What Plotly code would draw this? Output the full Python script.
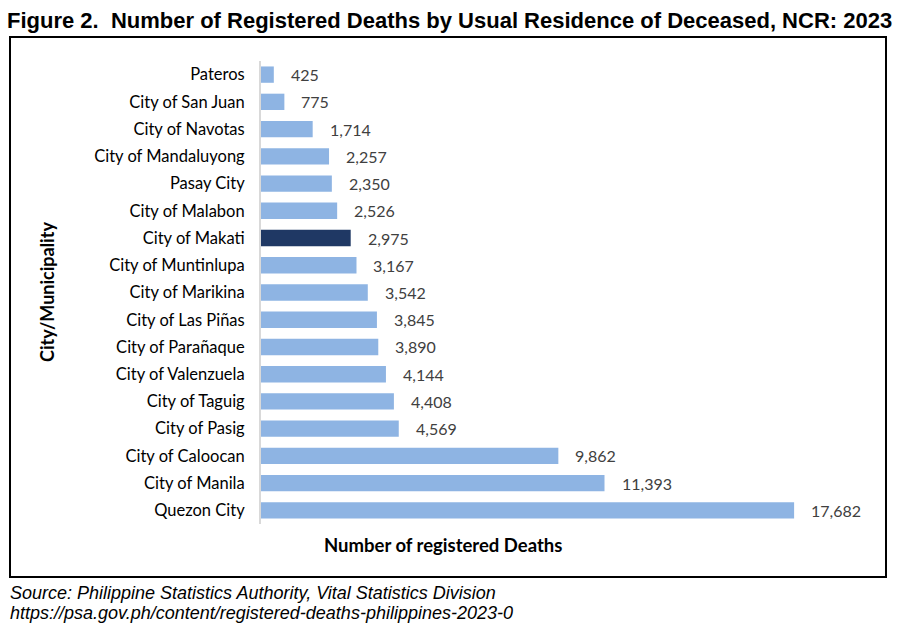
import plotly.graph_objects as go

cities = ["Quezon City", "City of Manila", "City of Caloocan", "City of Pasig", "City of Taguig",
          "City of Valenzuela", "City of Parañaque", "City of Las Piñas", "City of Marikina",
          "City of Muntinlupa", "City of Makati", "City of Malabon", "Pasay City",
          "City of Mandaluyong", "City of Navotas", "City of San Juan", "Pateros"]
deaths = [17682, 11393, 9862, 4569, 4408, 4144, 3890, 3845, 3542, 3167, 2975, 2526, 2350,
          2257, 1714, 775, 425]
highlight = "City of Makati"

W, H = 898, 629
L, R, T, B = 261, 864, 61, 524  # plot area pixel bounds
pw, ph = R - L, B - T

def px(x):
    return (x - L) / pw

def py(y):
    return (B - y) / ph

FONT = "Lato, Carlito, sans-serif"
colors = ["#1F3864" if c == highlight else "#8EB4E3" for c in cities]

fig = go.Figure(go.Bar(
    x=deaths, y=cities, orientation="h",
    marker=dict(color=colors, line=dict(width=0)),
    width=0.6, hoverinfo="x+y",
))

annotations = []
for c, v in zip(cities, deaths):
    annotations.append(dict(x=v, y=c, xref="x", yref="y", text=f"{v:,}", showarrow=False,
                            xanchor="left", xshift=15,
                            font=dict(family=FONT, size=16, color="#404040")))

annotations += [
    dict(x=px(5), y=py(20), xref="paper", yref="paper", xanchor="left", yanchor="middle",
         text="<b>Figure 2.  Number of Registered Deaths by Usual Residence of Deceased, NCR: 2023</b>",
         showarrow=False, font=dict(family="Liberation Sans, Arial", size=22, color="#000000")),
    dict(x=px(443), y=py(545), xref="paper", yref="paper", xanchor="center", yanchor="middle",
         text="<b>Number of registered Deaths</b>", showarrow=False,
         font=dict(family=FONT, size=18.5, color="#000000")),
    dict(x=px(47), y=py(292), xref="paper", yref="paper", xanchor="center", yanchor="middle",
         text="<b>City/Municipality</b>", textangle=-90, showarrow=False,
         font=dict(family=FONT, size=18, color="#000000")),
    dict(x=px(8), y=py(593), xref="paper", yref="paper", xanchor="left", yanchor="middle",
         text="<i>Source: Philippine Statistics Authority, Vital Statistics Division</i>", showarrow=False,
         font=dict(family="Liberation Sans, Arial", size=18, color="#000000")),
    dict(x=px(8), y=py(613), xref="paper", yref="paper", xanchor="left", yanchor="middle",
         text="<i>https://psa.gov.ph/content/registered-deaths-philippines-2023-0</i>", showarrow=False,
         font=dict(family="Liberation Sans, Arial", size=18, color="#000000")),
]

fig.update_layout(
    width=W, height=H,
    margin=dict(l=L, r=W - R, t=T, b=H - B, pad=0),
    paper_bgcolor="white", plot_bgcolor="white",
    showlegend=False,
    xaxis=dict(range=[0, 20000], visible=False, showgrid=False, zeroline=False),
    yaxis=dict(showgrid=False, zeroline=False, showline=True, linecolor="#D9D9D9", linewidth=2,
               ticks="", ticklabelstandoff=11, automargin=False,
               tickfont=dict(family=FONT, size=16.5, color="#000000"),
               range=[-0.5, len(cities) - 0.5]),
    annotations=annotations,
    shapes=[dict(type="rect", xref="paper", yref="paper",
                 x0=px(10), x1=px(886), y0=py(577), y1=py(37),
                 line=dict(color="#000000", width=2), fillcolor="rgba(0,0,0,0)")],
)

fig.write_html("out.html", config={"displayModeBar": False},
               post_script="document.body.style.margin='0';")
